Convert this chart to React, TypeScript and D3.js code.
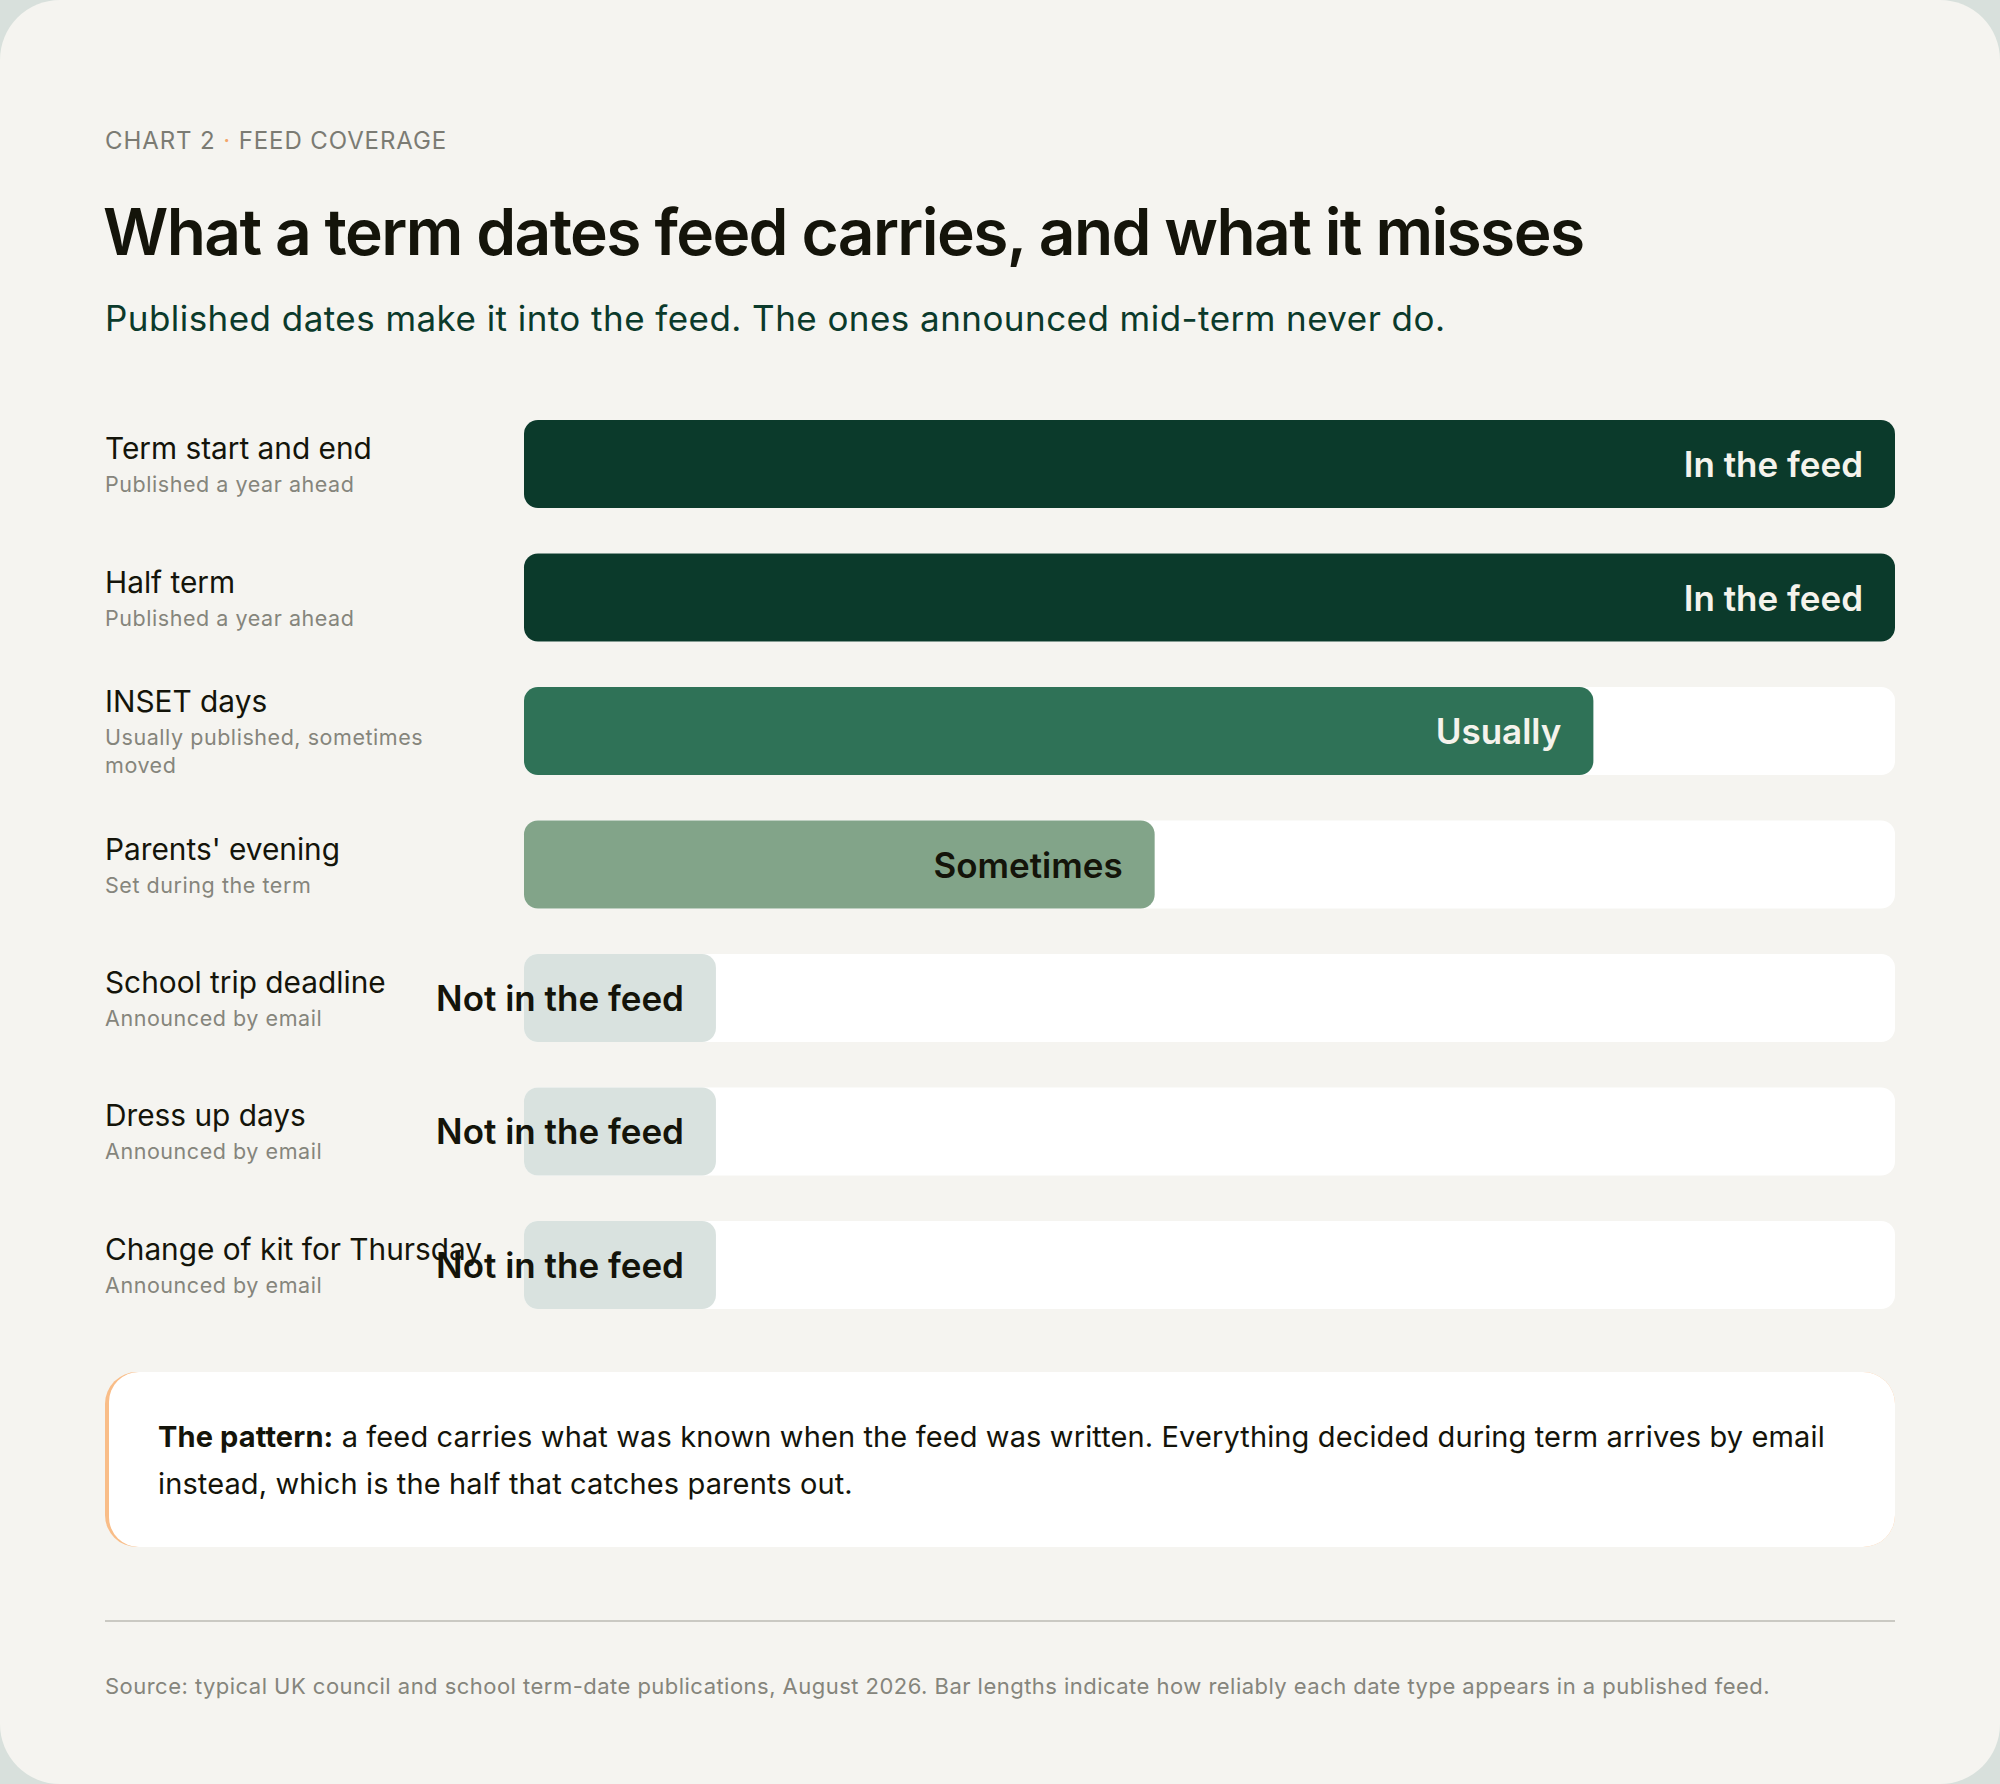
import React from "react";
import * as d3 from "d3";

const categories = [
  "Term start and end",
  "Half term",
  "INSET days",
  "Parents' evening",
  "School trip deadline",
  "Dress up days",
  "Change of kit for Thursday",
];
const notes = [
  ["Published a year ahead"],
  ["Published a year ahead"],
  ["Usually published, sometimes", "moved"],
  ["Set during the term"],
  ["Announced by email"],
  ["Announced by email"],
  ["Announced by email"],
];
const statuses = [
  "In the feed",
  "In the feed",
  "Usually",
  "Sometimes",
  "Not in the feed",
  "Not in the feed",
  "Not in the feed",
];
const coverage = [100, 100, 78, 46, 14, 14, 14];

const statusFill: Record<string, string> = {
  "In the feed": "#0b3a2b",
  Usually: "#2f7257",
  Sometimes: "#82a489",
  "Not in the feed": "#d9e2df",
};
const statusText: Record<string, string> = {
  "In the feed": "#f5f3ec",
  Usually: "#f5f3ec",
  Sometimes: "#14140a",
  "Not in the feed": "#14140a",
};

const W = 2000;
const H = 1784;
const FONT = "Inter, 'DejaVu Sans', sans-serif";

export default function App() {
  const x = d3.scaleLinear().domain([0, 100]).range([524, 1895]);
  const y = d3
    .scaleBand<string>()
    .domain(categories)
    .range([420, 1309])
    .paddingInner(0.3408)
    .paddingOuter(0);
  const bh = y.bandwidth();

  return (
    <div style={{ position: "absolute", left: 0, top: 0, width: W, height: H }}>
      <svg width={W} height={H} style={{ display: "block" }}>
        <rect x={0} y={0} width={W} height={H} fill="#d8e0dc" />
        <rect x={0} y={0} width={W} height={H} rx={60} ry={60} fill="#f5f4f0" />

        <text x={105} y={149} fontFamily={FONT} fontSize={24} fill="#7b7b73" letterSpacing={0.9}>
          CHART 2 <tspan fill="#f3a66b">·</tspan> FEED COVERAGE
        </text>
        <text x={103} y={255} fontFamily={FONT} fontSize={64} fontWeight={600} fill="#14140a" letterSpacing={-1.6}>
          What a term dates feed carries, and what it misses
        </text>
        <text x={105} y={331} fontFamily={FONT} fontSize={35} fill="#0b3a2b" letterSpacing={0.45}>
          Published dates make it into the feed. The ones announced mid-term never do.
        </text>

        {categories.map((c, i) => {
          const top = y(c)!;
          const cy = top + bh / 2 + 2;
          const n = notes[i].length;
          const span = 36 + 28 * (n - 1);
          const titleY = cy - span / 2;
          const st = statuses[i];
          return (
            <g key={c}>
              <text x={105} y={titleY} dominantBaseline="central" fontFamily={FONT} fontSize={29.8} fill="#14140a">
                {c}
              </text>
              {notes[i].map((t, j) => (
                <text
                  key={j}
                  x={105}
                  y={titleY + 36 + 28 * j}
                  dominantBaseline="central"
                  fontFamily={FONT}
                  fontSize={21.5}
                  fill="#85857c"
                  letterSpacing={0.55}
                >
                  {t}
                </text>
              ))}
              <rect x={x(0)} y={top} width={x(100) - x(0)} height={bh} rx={14} fill="#ffffff" />
              <rect x={x(0)} y={top} width={x(coverage[i]) - x(0)} height={bh} rx={14} fill={statusFill[st]} />
              <text
                x={x(coverage[i]) - 32}
                y={top + bh / 2}
                dominantBaseline="central"
                textAnchor="end"
                fontFamily={FONT}
                fontSize={35}
                fontWeight={600}
                fill={statusText[st]}
                letterSpacing={0}
              >
                {st}
              </text>
            </g>
          );
        })}

        <clipPath id="calloutClip">
          <rect x={105} y={1372} width={1790} height={175} rx={32} />
        </clipPath>
        <g clipPath="url(#calloutClip)">
          <rect x={105} y={1372} width={1790} height={175} fill="#f9bd88" />
          <rect x={109} y={1372} width={1790} height={175} rx={30} fill="#ffffff" />
        </g>
        <text x={158} y={1436} dominantBaseline="central" fontFamily={FONT} fontSize={29} fill="#14140a" letterSpacing={0.12}>
          <tspan fontWeight={700}>The pattern:</tspan> a feed carries what was known when the feed was written. Everything decided during term arrives by email
        </text>
        <text x={158} y={1483} dominantBaseline="central" fontFamily={FONT} fontSize={29} fill="#14140a" letterSpacing={0.12}>
          instead, which is the half that catches parents out.
        </text>

        <line x1={105} x2={1895} y1={1621} y2={1621} stroke="#cac9c3" strokeWidth={2} />
        <text x={105} y={1686} dominantBaseline="central" fontFamily={FONT} fontSize={22} fill="#85857c" letterSpacing={0.47}>
          Source: typical UK council and school term-date publications, August 2026. Bar lengths indicate how reliably each date type appears in a published feed.
        </text>
      </svg>
    </div>
  );
}
